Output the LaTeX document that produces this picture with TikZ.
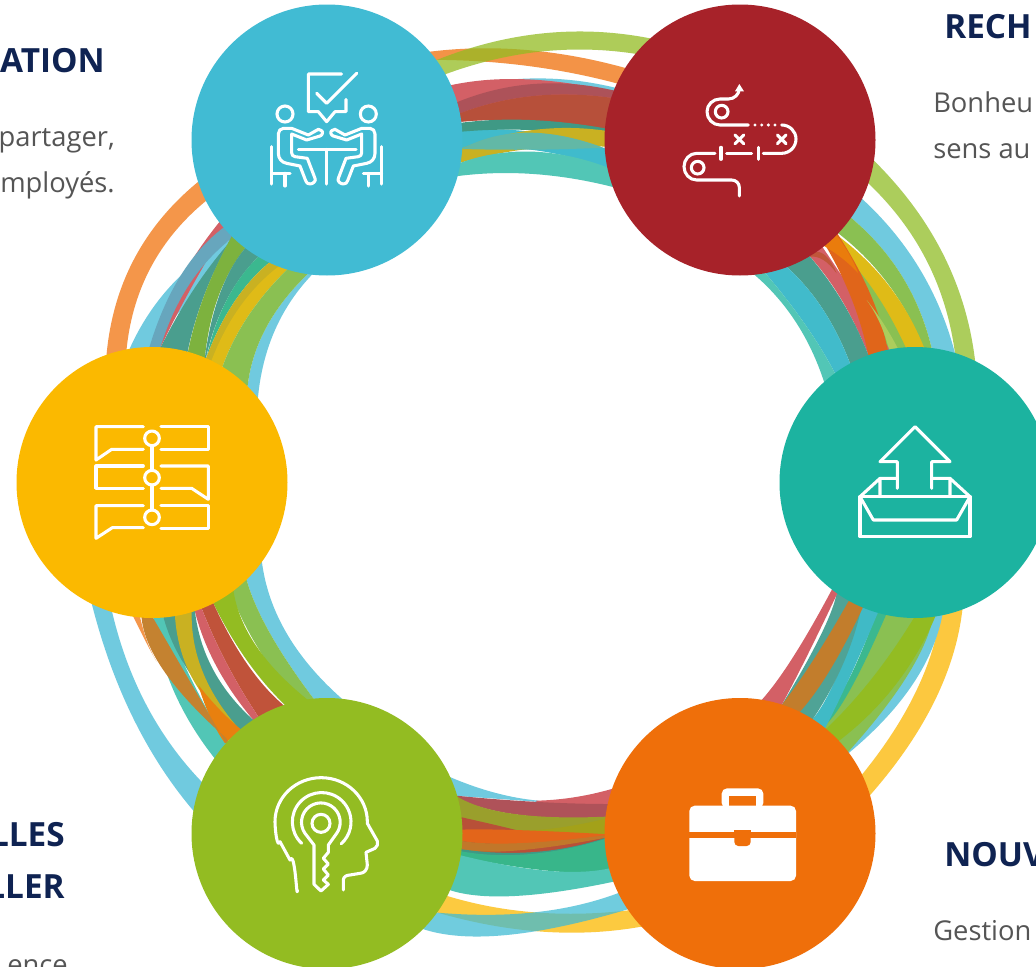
\documentclass[tikz,border=0pt]{standalone}
\usepackage{fontspec}
\setmainfont{Open Sans}
\definecolor{cblue}{HTML}{41BBD3}
\definecolor{cred}{HTML}{A72229}
\definecolor{cteal}{HTML}{1CB3A0}
\definecolor{corange}{HTML}{EF6F0A}
\definecolor{cgreen}{HTML}{93BC22}
\definecolor{cyellow}{HTML}{FBB900}
\definecolor{navy}{HTML}{0F2352}
\definecolor{bodygray}{HTML}{555555}
\makeatletter
\def\qe{.15}
\def\qEdge(#1,#2) (#3,#4) (#5,#6)|{%
 \pgfmathsetmacro\qAA{(1+\qe)*(1+\qe)}%
 \pgfmathsetmacro\qAB{-2*\qe*(1+\qe)}%
 \pgfmathsetmacro\qAC{\qe*\qe}%
 \pgfmathsetmacro\qMA{-\qe*(1+\qe)}%
 \pgfmathsetmacro\qMB{\qe*\qe+(1+\qe)*(1+\qe)}%
 \pgfmathsetmacro\qQX{2*(#3)-((#1)+(#5))/2}%
 \pgfmathsetmacro\qQY{2*(#4)-((#2)+(#6))/2}%
 \pgfmathsetmacro\qSX{\qAA*(#1)+\qAB*\qQX+\qAC*(#5)}%
 \pgfmathsetmacro\qSY{\qAA*(#2)+\qAB*\qQY+\qAC*(#6)}%
 \pgfmathsetmacro\qEX{\qAC*(#1)+\qAB*\qQX+\qAA*(#5)}%
 \pgfmathsetmacro\qEY{\qAC*(#2)+\qAB*\qQY+\qAA*(#6)}%
 \pgfmathsetmacro\qMX{\qMA*(#1)+\qMB*\qQX+\qMA*(#5)}%
 \pgfmathsetmacro\qMY{\qMA*(#2)+\qMB*\qQY+\qMA*(#6)}%
 \pgfmathsetmacro\qCAX{(\qSX+2*\qMX)/3}%
 \pgfmathsetmacro\qCAY{(\qSY+2*\qMY)/3}%
 \pgfmathsetmacro\qCBX{(\qEX+2*\qMX)/3}%
 \pgfmathsetmacro\qCBY{(\qEY+2*\qMY)/3}%
 \edef\qPath{(\qSX,\qSY) .. controls (\qCAX,\qCAY) and (\qCBX,\qCBY) .. (\qEX,\qEY)}%
}
\makeatother
\newcommand\band[3]{\qEdge#2|\let\qOne\qPath\qEdge#3|\let\qTwo\qPath
 \edef\qDo{\noexpand\fill[#1] \qOne\space -- \qTwo\space -- cycle;}\qDo}
\newcommand\wband[3]{\begingroup\def\qe{0}\band{#1}{#2}{#3}\endgroup}
\tikzset{
  disc/.style={circle,minimum size=203.25pt,inner sep=0pt,draw=none},
  title/.style={font=\bfseries\fontsize{25}{25}\selectfont,text=navy,inner sep=0pt},
  body/.style={font=\fontsize{20.5}{21}\selectfont,text=bodygray,inner sep=0pt},
  icont/.style={draw=white,line width=2.3pt,line cap=round,line join=round},
  zoomed/.style={x=.25pt,y=-.25pt},
  zoomedb/.style={x=.2966pt,y=-.25pt},
  lb/.style={fill=cblue,fill opacity=.75},
  lo/.style={fill=corange,fill opacity=.75},
  lg/.style={fill=cgreen,fill opacity=.75},
  ly/.style={fill=cyellow,fill opacity=.75},
  s/.code={\definecolor{tmpc}{HTML}{#1}\tikzset{fill=tmpc}},
}
\begin{document}
\begin{tikzpicture}[x=.75pt,y=-.75pt]
\clip (0,0) rectangle (1036,967);
\fill[white] (0,0) rectangle (1036,967);
% ---- blue to red
\begin{scope}[shift={(180,0)},zoomed]
\wband{s=70CADF}{(1000,238) (1170,240) (1340,272)}{(1330,295) (1170,272) (1000,240)}
\band{s=D36066}{(815,255) (1040,238) (1300,275)}{(1280,390) (1050,362) (845,365)}
\band{s=AD5259}{(835,305) (1060,252) (1295,270)}{(1290,293) (1060,288) (845,338)}
\band{s=B7503A}{(845,338) (1060,288) (1290,293)}{(1280,390) (1050,362) (845,365)}
\band{s=40BBCC}{(845,392) (1050,395) (1275,445)}{(1280,505) (1060,450) (845,448)}
\band{s=3F9985}{(845,368) (1050,360) (1275,385)}{(1275,410) (1050,390) (845,395)}
\band{s=C9B122}{(845,445) (1060,390) (1275,392)}{(1275,440) (1060,445) (845,487)}
\wband{s=62B8A6}{(845,447) (1040,398) (1270,443)}{(1270,443) (1060,449) (845,447)}
\band{s=52C6B6}{(845,487) (1060,455) (1290,505)}{(1295,560) (1060,522) (835,528)}
\band{lo}{(750,155) (1040,150) (1340,205)}{(1310,250) (1060,200) (800,180)}
\band{lg}{(770,180) (1090,100) (1410,115)}{(1370,162) (1080,155) (790,225)}
\end{scope}
% ---- red to teal
\begin{scope}[shift={(650,60)},zoomed]
\band{s=ACCD5C}{(670,300) (878,580) (975,900)}{(915,880) (830,602) (655,370)}
\band{s=70CADF}{(640,420) (811,630) (915,880)}{(845,865) (757,650) (605,475)}
\band{s=8AC052}{(605,475) (757,650) (845,865)}{(820,865) (716,674) (565,520)}
\band{s=DFBB17}{(560,525) (715,675) (822,862)}{(760,865) (661,700) (530,560)}
\wband{s=8AC052}{(590,590) (690,720) (775,880)}{(712,880) (650,720) (590,590)}
\band{s=D36066}{(520,565) (630,730) (720,870)}{(655,885) (575,720) (480,590)}
\band{s=E0651A}{(565,525) (660,700) (712,865)}{(655,885) (610,730) (540,580)}
\wband{s=ACCD5C}{(650,720) (700,790) (745,868)}{(718,872) (690,790) (650,720)}
\wband{s=EA7C0C}{(540,500) (590,570) (625,640)}{(625,640) (570,590) (500,545)}
\wband{s=C0563A}{(495,575) (530,590) (560,640)}{(560,640) (520,600) (480,590)}
\band{s=4A9E8E}{(480,590) (580,730) (655,885)}{(600,910) (520,750) (415,625)}
\band{s=41BBCB}{(415,625) (520,750) (600,910)}{(555,940) (470,800) (355,650)}
\band{s=52C6B6}{(355,650) (470,800) (555,940)}{(522,965) (440,790) (320,650)}
\end{scope}
% ---- teal to orange
\begin{scope}[shift={(750,580)},zoomed]
\band{s=FCC83F}{(640,60) (560,350) (365,640)}{(335,585) (500,330) (575,80)}
\band{s=70CADF}{(580,90) (490,310) (295,520)}{(270,490) (400,300) (500,100)}
\band{s=8AC052}{(550,110) (470,290) (295,515)}{(205,430) (310,290) (400,90)}
\band{s=93BC22}{(560,100) (440,310) (270,480)}{(230,445) (370,290) (500,100)}
\band{s=3BB88F}{(410,100) (300,330) (220,440)}{(205,425) (290,310) (380,95)}
\band{s=40BAC6}{(385,95) (300,290) (225,445)}{(190,415) (260,290) (335,80)}
\band{s=4FA396}{(335,80) (280,250) (190,415)}{(95,375) (210,170) (260,40)}
\band{s=C27D2C}{(335,90) (240,270) (150,395)}{(95,375) (190,240) (295,65)}
\band{s=D36066}{(262,40) (170,230) (95,375)}{(35,360) (130,230) (245,30)}
\end{scope}
% ---- orange to green
\begin{scope}[shift={(230,680)},zoomedb]
\wband{s=B85038}{(560,400) (770,440) (985,420)}{(985,570) (770,545) (560,520)}
\wband{s=70CADF}{(535,280) (660,335) (780,362)}{(780,366) (660,355) (535,345)}
\wband{s=D36066}{(775,362) (880,350) (985,320)}{(985,375) (880,374) (775,368)}
\wband{s=AF5259}{(555,345) (780,366) (985,372)}{(985,412) (720,403) (555,340)}
\band{s=9A9F2C}{(575,350) (720,402) (950,410)}{(950,465) (760,465) (585,415)}
\wband{s=A3A119}{(730,452) (850,440) (985,405)}{(985,467) (850,465) (730,452)}
\wband{s=B85038}{(560,405) (660,432) (730,452)}{(730,453) (660,452) (560,452)}
\wband{s=E3651A}{(560,450) (720,450) (985,465)}{(985,468) (720,492) (560,476)}
\wband{s=C1772A}{(560,476) (720,490) (985,460)}{(985,465) (720,512) (560,503)}
\wband{s=3F9985}{(560,503) (780,515) (985,458)}{(985,465) (760,528) (560,510)}
\wband{s=38B68A}{(560,508) (760,522) (985,463)}{(985,565) (830,575) (560,525)}
\band{s=52C6B6}{(580,525) (800,572) (960,565)}{(970,605) (720,648) (555,630)}
\band{ly}{(555,650) (770,697) (1000,692)}{(1040,740) (790,755) (525,698)}
\band{lb}{(525,698) (770,697) (980,640)}{(1000,690) (700,765) (490,748)}
\end{scope}
% ---- yellow to green
\begin{scope}[shift={(0,340)},zoomed]
\band{s=70CADF}{(275,790) (395,1125) (570,1400)}{(640,1360) (450,1115) (335,810)}
\band{s=70CADF}{(785,660) (860,880) (1030,1080)}{(940,1075) (810,880) (740,720)}
\band{s=8AC052}{(740,720) (810,880) (940,1075)}{(880,1080) (760,900) (695,760)}
\band{s=93BC22}{(700,750) (770,920) (930,1085)}{(855,1095) (740,960) (640,790)}
\band{s=C0533A}{(640,790) (740,970) (850,1095)}{(775,1130) (680,970) (605,805)}
\band{s=D36066}{(605,805) (680,970) (775,1130)}{(760,1140) (650,980) (585,815)}
\band{s=52C6B6}{(490,830) (580,1030) (680,1210)}{(640,1250) (520,1050) (460,835)}
\wband{s=F4964A}{(390,810) (440,910) (470,965)}{(470,965) (440,900) (415,810)}
\band{s=4A9E8E}{(585,815) (640,990) (760,1140)}{(720,1170) (570,1000) (490,830)}
\band{s=C9B122}{(575,820) (610,1000) (720,1170)}{(715,1170) (580,1020) (525,830)}
\wband{s=E8800F}{(595,1035) (660,1110) (725,1170)}{(675,1210) (630,1130) (595,1035)}
\band{s=C48230}{(460,835) (550,990) (675,1205)}{(620,1140) (480,975) (425,835)}
\end{scope}
% ---- blue to yellow
\begin{scope}[shift={(90,170)},zoomed]
\band{s=F4964A}{(325,35) (134,264) (50,550)}{(110,535) (183,291) (345,95)}
\band{s=70CADF}{(420,210) (240,350) (115,545)}{(185,530) (290,400) (440,230)}
\band{s=D36066}{(385,160) (265,340) (185,530)}{(213,530) (300,360) (405,180)}
\band{s=67A6BD}{(385,185) (270,320) (185,510)}{(215,520) (300,340) (425,205)}
\band{s=4A9E8E}{(420,215) (310,360) (213,530)}{(295,535) (345,370) (425,200)}
\band{s=7DB23E}{(425,200) (345,370) (295,540)}{(345,560) (385,380) (465,235)}
\band{s=4A9E8E}{(465,235) (390,370) (345,560)}{(350,555) (410,390) (505,260)}
\band{s=3BB88F}{(505,260) (410,390) (350,560)}{(348,565) (430,400) (535,280)}
\band{s=C9B122}{(535,280) (430,400) (348,565)}{(370,575) (470,420) (590,295)}
\band{s=DFBB17}{(565,290) (450,410) (365,570)}{(405,570) (480,430) (590,300)}
\band{s=70CADF}{(665,315) (555,480) (504,681)}{(474,639) (530,470) (650,315)}
\band{s=8AC052}{(590,300) (480,430) (405,570)}{(474,639) (530,470) (650,315)}
\end{scope}
% ---- discs
\node[disc,fill=cblue] (nblue) at (327,140) {};
\node[disc,fill=cred] (nred) at (740,140) {};
\node[disc,fill=cteal] (nteal) at (915,482.5) {};
\node[disc,fill=corange] (norange) at (740,833.5) {};
\node[disc,fill=cgreen] (ngreen) at (327,833.5) {};
\node[disc,fill=cyellow] (nyellow) at (152,482.5) {};
% ---- icon: meeting
\begin{scope}[shift={(250,60)},zoomed]
\draw[icont] (275,42) -- (175,42) -- (175,155) -- (205,155) -- (230,185) -- (255,155) -- (288,155) -- (288,118);
\draw[icont] (200,100) -- (230,130) -- (320,40);
\draw[icont] (145,268) -- (318,268) (230,268) -- (230,372);
\foreach \flip/\off in {1/0,-1/460}{
\begin{scope}[shift={(\off,0)},xscale=\flip]
\draw[icont] (105,162) circle[radius=24];
\draw[icont] (215,212) -- (205,208) -- (175,225) -- (125,205) -- (100,205) to[out=180,in=90] (85,222) -- (85,280) to[out=-90,in=170] (110,310) -- (150,318) -- (167,362) to[out=-80,in=180] (180,372) to[out=0,in=-60] (195,355) -- (172,295) -- (135,290) to[out=180,in=-90] (125,278) -- (125,222) -- (170,240) -- (210,228) to[out=10,in=-30] (215,212);
\draw[icont] (65,260) -- (65,372) (65,340) -- (120,340) (105,340) -- (105,378);
\end{scope}}
\end{scope}
% ---- icon: road
\begin{scope}[shift={(670,70)},zoomed]
\draw[icont] (208,55) to[out=-90,in=0] (175,87) -- (150,87) to[out=180,in=90] (111,125) to[out=-90,in=180] (150,165) -- (235,165);
\fill[white] (195,64) -- (222,64) -- (208,42) -- cycle;
\foreach \dx in {255,275,295,315}{\fill[white] (\dx,165) circle[radius=5];}
\draw[icont] (335,165) to[out=0,in=90] (378,207) to[out=-90,in=0] (335,250) -- (280,250);
\draw[icont] (265,232) -- (265,268) (170,250) -- (245,250) (153,232) -- (153,268);
\draw[icont] (135,250) -- (80,250) to[out=180,in=90] (42,290) to[out=-90,in=180] (80,330) -- (185,330) to[out=0,in=90] (208,352) -- (208,378);
\draw[icont] (155,125) circle[radius=19] (83,293) circle[radius=19];
\draw[icont] (195,195) -- (221,221) (195,221) -- (221,195) (322,195) -- (348,221) (322,221) -- (348,195);
\end{scope}
% ---- icon: inbox
\begin{scope}[shift={(840,410)},zoomed]
\draw[icont] (172,235) -- (172,155) -- (120,155) -- (225,50) -- (330,155) -- (275,155) -- (275,235);
\draw[icont] (60,260) rectangle (390,380);
\draw[icont] (60,260) -- (120,205) -- (168,205) (120,205) -- (120,260);
\draw[icont] (390,260) -- (330,205) -- (280,205) (330,205) -- (330,260);
\draw[icont] (60,260) -- (100,330) -- (350,330) -- (390,260);
\end{scope}
% ---- icon: timeline
\begin{scope}[shift={(80,410)},zoomed]
\draw[icont] (190,50) -- (48,50) -- (48,150) -- (95,118) -- (190,118);
\draw[icont] (243,50) -- (385,50) -- (385,118) -- (243,118);
\draw[icont] (190,168) -- (48,168) -- (48,235) -- (190,235);
\draw[icont] (243,168) -- (385,168) -- (385,268) -- (335,235) -- (243,235);
\draw[icont] (190,287) -- (48,287) -- (48,385) -- (97,353) -- (190,353);
\draw[icont] (243,287) -- (385,287) -- (385,355) -- (243,355);
\draw[icont] (216,85) circle[radius=22] (216,203) circle[radius=22] (216,322) circle[radius=22];
\draw[icont] (216,107) -- (216,181) (216,225) -- (216,300);
\end{scope}
% ---- icon: head and key
\begin{scope}[shift={(260,765)},zoomed]
\draw[icont] (112,375) to[out=-92,in=65] (90,285) -- (60,230) to[out=-110,in=-90] (45,170) arc[start angle=180,end angle=360,x radius=138.5,y radius=132] -- (322,175) -- (352,228) to[out=-80,in=30] (345,250) -- (318,262) -- (322,300) to[out=-90,in=0] (300,325) -- (270,330) to[out=180,in=90] (250,345) -- (250,375);
\draw[icont] (125,235) arc[start angle=133,end angle=408,radius=88];
\draw[icont] (183,175) circle[radius=27];
\draw[icont] (162,240) -- (135,205) arc[start angle=145,end angle=395,radius=58] -- (205,240) -- (205,262) -- (190,280) -- (205,297) -- (190,312) -- (205,330) -- (190,345) -- (205,358) -- (183,378) -- (162,358) -- cycle;
\end{scope}
% ---- icon: case
\begin{scope}[shift={(680,775)},zoomed]
\fill[white,rounded corners=4pt] (125,100) -- (125,40) -- (250,40) -- (250,100) -- cycle;
\fill[corange] (148,62) rectangle (228,100);
\fill[white,rounded corners=4pt] (28,92) rectangle (348,318);
\fill[corange] (28,172) rectangle (348,188);
\fill[corange,rounded corners=3pt] (163,172) -- (163,213) -- (212,213) -- (212,172) -- cycle;
\fill[corange] (163,165) rectangle (212,180);
\end{scope}
% ---- text
\node[title,anchor=base east] (t1) at (105,72) {ATION};
\node[body,anchor=base east] (b1) at (115,146) {partager,};
\node[body,anchor=base east] (b2) at (115,192) {mployés.};
\node[title,anchor=base west] (t2) at (944,38) {RECH};
\node[body,anchor=base west] (b3) at (933,112) {Bonheu};
\node[body,anchor=base west] (b4) at (933,158) {sens au};
\node[title,anchor=base west] (t3) at (944,866) {NOUV};
\node[body,anchor=base west] (b5) at (933,940) {Gestion};
\node[title,anchor=base east] (t4) at (65,846) {LLES};
\node[title,anchor=base east] (t5) at (65,898) {LLER};
\node[body,anchor=base east] (b6) at (68,974) {ence};
\end{tikzpicture}
\end{document}
